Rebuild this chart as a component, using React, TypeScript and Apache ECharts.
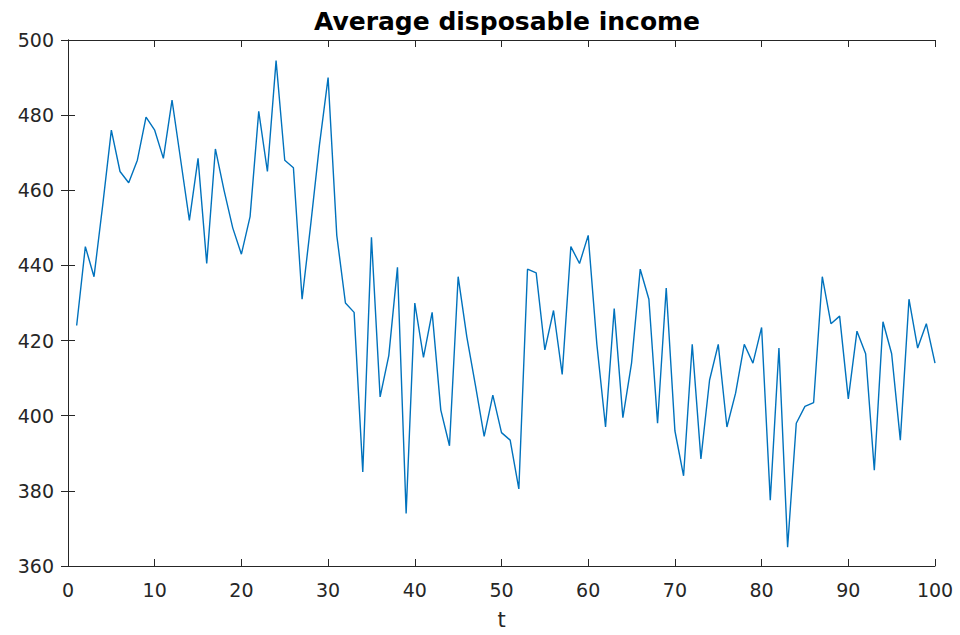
import React, { useEffect, useRef } from "react";
import * as echarts from "echarts";

const TITLE = "Average disposable income";
const X_LABEL = "t";
const X_MIN = 0;
const X_MAX = 100;
const X_STEP = 10;
const Y_MIN = 360;
const Y_MAX = 500;
const Y_STEP = 20;

// t = 1..100
const incomeValues: number[] = [
  424, 445, 437, 456, 476, 465, 462, 468, 479.5, 476,
  468.5, 484, 468, 452, 468.5, 440.5, 471, 460, 450, 443,
  453, 481, 465, 494.5, 468, 466, 431, 451, 472, 490,
  448, 430, 427.5, 385, 447.5, 405, 416, 439.5, 374, 430,
  415.5, 427.5, 401.5, 392, 437, 421, 408, 394.5, 405.5, 395.5,
  393.5, 380.5, 439, 438, 417.5, 428, 411, 445, 440.5, 448,
  419, 397, 428.5, 399.5, 414, 439, 431, 398, 434, 396,
  384, 419, 388.5, 409.5, 419, 397, 406, 419, 414, 423.5,
  377.5, 418, 365, 398, 402.5, 403.5, 437, 424.5, 426.5, 404.5,
  422.5, 416.5, 385.5, 425, 416.5, 393.5, 431, 418, 424.5, 414,
];
const tValues: number[] = incomeValues.map((_, i) => i + 1);

const AXIS_COLOR = "#262626";
const LINE_COLOR = "#0072BD";
const FONT = "DejaVu Sans";

export default function App() {
  const ref = useRef<HTMLDivElement>(null);

  useEffect(() => {
    if (!ref.current) return;
    const chart = echarts.init(ref.current, undefined, { renderer: "svg" });
    const data = tValues.map((t, i) => [t, incomeValues[i]]);
    const axisLine = { show: true, lineStyle: { color: AXIS_COLOR, width: 1 } };
    const tick = { show: true, inside: true, length: 7, lineStyle: { color: AXIS_COLOR, width: 1 } };
    chart.setOption({
      animation: false,
      backgroundColor: "#ffffff",
      title: {
        text: TITLE,
        left: 502,
        textAlign: "center",
        top: 4,
        textStyle: { fontFamily: FONT, fontSize: 25, fontWeight: "bold", color: "#000000" },
      },
      grid: { left: 68, right: 25, top: 40, bottom: 65, containLabel: false },
      xAxis: [
        {
          type: "value",
          min: X_MIN,
          max: X_MAX,
          interval: X_STEP,
          name: X_LABEL,
          nameLocation: "middle",
          nameGap: 43,
          nameTextStyle: { fontFamily: FONT, fontSize: 21, color: AXIS_COLOR },
          axisLine,
          axisTick: tick,
          splitLine: { show: false },
          axisLabel: { fontFamily: FONT, fontSize: 19, color: AXIS_COLOR, margin: 14 },
        },
        {
          type: "value",
          position: "top",
          min: X_MIN,
          max: X_MAX,
          interval: X_STEP,
          axisLine,
          axisTick: tick,
          splitLine: { show: false },
          axisLabel: { show: false },
        },
      ],
      yAxis: [
        {
          type: "value",
          min: Y_MIN,
          max: Y_MAX,
          interval: Y_STEP,
          axisLine,
          axisTick: tick,
          splitLine: { show: false },
          axisLabel: { fontFamily: FONT, fontSize: 19, color: AXIS_COLOR, margin: 14 },
        },
        {
          type: "value",
          position: "right",
          min: Y_MIN,
          max: Y_MAX,
          interval: Y_STEP,
          axisLine,
          axisTick: tick,
          splitLine: { show: false },
          axisLabel: { show: false },
        },
      ],
      series: [
        {
          type: "line",
          data,
          xAxisIndex: 0,
          yAxisIndex: 0,
          showSymbol: false,
          symbol: "none",
          lineStyle: { color: LINE_COLOR, width: 1.4 },
        },
      ],
    });
    return () => chart.dispose();
  }, []);

  return (
    <div
      ref={ref}
      style={{ position: "fixed", left: 0, top: 0, width: 960, height: 635, background: "#fff" }}
    />
  );
}
